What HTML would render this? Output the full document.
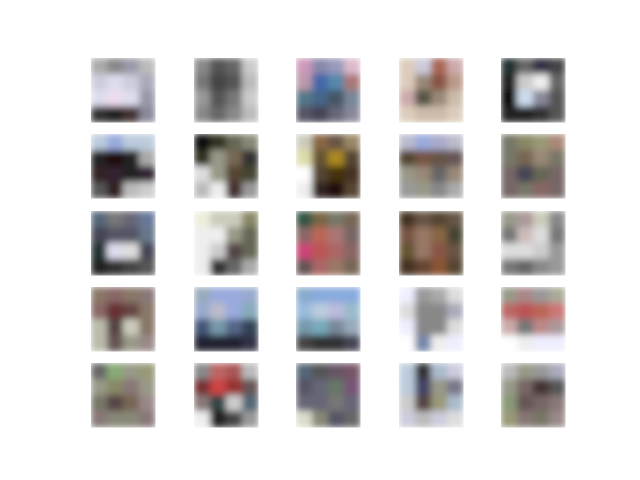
<!DOCTYPE html>
<html><head><meta charset="utf-8"><style>body{margin:0;background:#fff;}svg{display:block}</style></head>
<body>
<svg id="fig" width="640" height="480" xmlns="http://www.w3.org/2000/svg">
<defs><filter id="bl" x="0" y="0" width="1" height="1" filterUnits="objectBoundingBox"><feGaussianBlur stdDeviation="3.5" edgeMode="duplicate"/></filter></defs>
</svg>
<script>
const colX=[91,194,296,399,501];
const rowY=[58,134,211,287,363];
const tiles=[
"aaa 888 99a bbb ccd dde ccd aab dde ede dde 99a 333 222 433 889",
"888 555 666 ccc 777 444 555 bbb 999 555 777 ccc 888 666 888 bbb",
"c9b 88a 99b dbc b9a 46a 58a a77 578 468 456 789 556 445 667 889",
"dcb ccd a65 caa dcb 987 854 b98 caa 554 987 cba dcb cba cba dcb",
"233 666 334 444 222 ccc eee 666 111 cde 889 555 222 222 333 555",
"bcd 9ad bcd bcd 222 211 222 aaa 322 323 222 323 555 322 bbb ccc",
"111 332 665 887 332 998 765 333 ddd 998 543 443 bbb eee 433 999",
"ccb 864 654 986 dda 653 a82 543 fff 543 431 432 eee 322 211 543",
"bbc 9ad aac bbc 543 754 654 655 998 987 666 987 999 998 888 aaa",
"776 886 997 a87 776 765 987 776 766 445 665 766 766 776 866 766",
"567 777 667 679 445 556 556 678 233 dde ddd 445 222 333 444 555",
"eed ccb ccb 886 eee eee 998 665 eee ccc 544 665 eee 333 666 aaa",
"354 764 776 765 866 b65 a77 766 c47 b55 a66 866 655 a66 976 765",
"432 654 543 654 754 976 864 443 653 976 854 654 432 643 853 543",
"998 a99 ccb 888 777 cbb ddd 777 ddd ddd ccc 999 777 666 888 999",
"876 866 876 877 866 633 644 876 bba 544 ccb 876 bba 655 998 988",
"9ab 9ad 9ad 9ac 9ac bbc 9ad 8ab 457 79a 568 345 223 223 223 334",
"8ac 8ad 8ad 8ad 9bd bcd bbd 9bc 79a 7ab 789 9ab 444 333 333 445",
"eef 999 aaa ddd ddd 888 888 aab eef 888 888 ddd fff 78a eee eef",
"998 a88 999 aa9 b66 b55 b65 c77 caa 777 b88 a99 fff eee eef eef",
"666 8a7 998 997 998 886 877 998 776 544 765 988 877 887 887 877",
"888 b66 a55 bbb 733 c44 933 655 877 344 ccc 567 eee 222 444 999",
"567 555 656 756 556 667 676 757 667 667 777 667 ddc 887 556 666",
"bcd 333 abc ccd bcd 446 998 778 ccc 544 997 abc ccd bbb ccd ddd",
"bbb 998 999 aab 998 766 433 555 897 655 766 877 997 877 776 988"
];
const NS="http://www.w3.org/2000/svg";
const svg=document.getElementById('fig');
tiles.forEach((t,i)=>{
  const cols=t.split(' ');
  const x0=colX[i%5], y0=rowY[Math.floor(i/5)];
  const g=document.createElementNS(NS,'g');
  
  
  g.setAttribute('filter','url(#bl)');
  cols.forEach((c,k)=>{
    const r=document.createElementNS(NS,'rect');
    r.setAttribute('x',x0+(k%4)*16);
    r.setAttribute('y',y0+Math.floor(k/4)*16);
    r.setAttribute('width',16.5);r.setAttribute('height',16.5);
    r.setAttribute('fill','#'+c);
    g.appendChild(r);
  });
  svg.appendChild(g);
});
</script>
</body></html>
